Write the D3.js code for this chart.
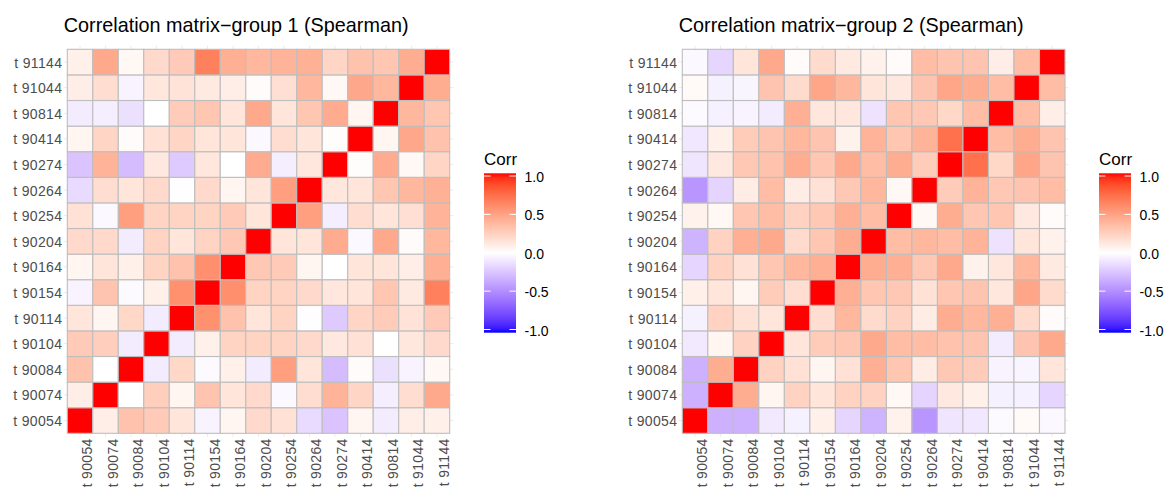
<!DOCTYPE html>
<html>
<head>
<meta charset="utf-8">
<script src="https://cdn.jsdelivr.net/npm/d3@7"></script>
<style>
  body { margin: 0; background: #fff; }
  svg { display: block; font-family: "Liberation Sans", Arial, sans-serif; }
</style>
</head>
<body>
<svg id="chart" width="1167" height="488"></svg>
<script>
// ---- data ----
const variables = ["t 90054","t 90074","t 90084","t 90104","t 90114","t 90154","t 90164",
                   "t 90204","t 90254","t 90264","t 90274","t 90414","t 90814","t 91044","t 91144"];

// lower triangle rows (row i holds correlations with variables 0..i-1)
const group1Lower = [
  [],
  [0.09],
  [0.32, 0.00],
  [0.28, 0.26, -0.08],
  [0.14, 0.05, 0.21, -0.08],
  [-0.05, 0.31, -0.02, 0.08, 0.57],
  [0.05, 0.14, 0.08, 0.23, 0.32, 0.58],
  [0.20, 0.20, -0.08, 0.23, 0.14, 0.23, 0.29],
  [0.16, -0.03, 0.50, 0.23, 0.23, 0.23, 0.28, 0.14],
  [-0.15, 0.18, 0.14, 0.20, -0.01, 0.20, 0.05, 0.14, 0.50],
  [-0.25, 0.40, -0.28, 0.12, -0.22, 0.13, 0.00, 0.44, -0.07, 0.13],
  [0.05, 0.22, 0.02, 0.16, 0.22, 0.14, 0.14, -0.03, 0.18, 0.14, 0.01],
  [-0.08, -0.07, -0.13, 0.00, 0.27, 0.30, 0.14, 0.45, 0.14, 0.30, 0.44, 0.05],
  [0.09, 0.18, -0.05, 0.13, 0.15, 0.11, 0.09, 0.02, 0.17, 0.38, 0.04, 0.46, 0.38],
  [0.08, 0.45, 0.04, 0.20, 0.28, 0.65, 0.42, 0.38, 0.40, 0.41, 0.22, 0.32, 0.30, 0.43]
];

const group2Lower = [
  [],
  [-0.33],
  [-0.33, 0.43],
  [-0.09, 0.05, 0.24],
  [-0.06, 0.24, 0.16, 0.14],
  [0.08, 0.14, 0.05, 0.27, 0.18],
  [-0.17, 0.24, 0.16, 0.30, 0.38, 0.42],
  [-0.32, 0.24, 0.42, 0.45, 0.19, 0.30, 0.43],
  [0.07, 0.04, 0.30, 0.35, 0.24, 0.29, 0.42, 0.35],
  [-0.45, -0.18, 0.10, 0.35, 0.10, 0.16, 0.29, 0.38, 0.04],
  [-0.11, 0.12, 0.29, 0.32, 0.43, 0.30, 0.45, 0.35, 0.43, 0.27],
  [-0.10, 0.08, 0.27, 0.31, 0.38, 0.31, 0.07, 0.40, 0.30, 0.40, 0.72],
  [-0.02, -0.06, -0.05, -0.08, 0.42, 0.13, 0.13, -0.12, 0.30, 0.29, 0.21, 0.35],
  [0.03, -0.06, -0.04, 0.31, 0.19, 0.47, 0.38, 0.14, 0.12, 0.31, 0.47, 0.43, 0.35],
  [-0.03, -0.17, 0.14, 0.45, 0.02, 0.19, 0.11, 0.07, 0.02, 0.35, 0.31, 0.31, 0.09, 0.35]
];

const titles = ["Correlation matrix\u2212group 1 (Spearman)", "Correlation matrix\u2212group 2 (Spearman)"];
const legendTitle = "Corr";
const legendTicks = [1.0, 0.5, 0.0, -0.5, -1.0];

// ---- helpers ----
function fullMatrix(lower) {
  const cells = [];
  variables.forEach((rv, i) => {
    variables.forEach((cv, j) => {
      let v;
      if (i === j) v = 1;
      else if (j < i) v = lower[i][j];
      else v = lower[j][i];
      cells.push({ row: rv, col: cv, value: v });
    });
  });
  return cells;
}

const color = d3.scaleLinear()
  .domain([-1, 0, 1])
  .range(["blue", "white", "red"])
  .interpolate(d3.interpolateLab);

const svg = d3.select("#chart");
svg.append("rect").attr("width", 1167).attr("height", 488).attr("fill", "#fff");

// gradient for legend
const defs = svg.append("defs");
const grad = defs.append("linearGradient").attr("id", "corrGrad")
  .attr("x1", 0).attr("x2", 0).attr("y1", 0).attr("y2", 1);
d3.range(0, 41).forEach(k => {
  const t = k / 40;
  grad.append("stop").attr("offset", t).attr("stop-color", color(1 - 2 * t));
});

function drawPanel(lower, left, right, title, legendX) {
  const top = 49.3, bottom = 433.3;
  const x = d3.scaleBand().domain(variables).range([left, right]).padding(0);
  const y = d3.scaleBand().domain(variables).range([bottom, top]).padding(0);
  const g = svg.append("g");
  const ext = 3.5;

  // grid lines (theme_minimal)
  g.append("g").selectAll("line").data(variables).join("line")
    .attr("x1", d => x(d) + x.bandwidth() / 2).attr("x2", d => x(d) + x.bandwidth() / 2)
    .attr("y1", top - ext).attr("y2", bottom + ext)
    .attr("stroke", "#EBEBEB").attr("stroke-width", 1);
  g.append("g").selectAll("line").data(variables).join("line")
    .attr("y1", d => y(d) + y.bandwidth() / 2).attr("y2", d => y(d) + y.bandwidth() / 2)
    .attr("x1", left - ext).attr("x2", right + ext)
    .attr("stroke", "#EBEBEB").attr("stroke-width", 1);

  // tiles
  g.append("g").selectAll("rect").data(fullMatrix(lower)).join("rect")
    .attr("x", d => x(d.col)).attr("y", d => y(d.row))
    .attr("width", x.bandwidth()).attr("height", y.bandwidth())
    .attr("fill", d => color(d.value))
    .attr("stroke", "#BEBEBE").attr("stroke-width", 1.1);

  // y axis labels
  g.append("g").selectAll("text").data(variables).join("text")
    .attr("x", left - 5).attr("y", d => y(d) + y.bandwidth() / 2 + 5.5)
    .attr("text-anchor", "end").attr("font-size", 14).attr("letter-spacing", 0.33)
    .attr("fill", "#4D4D4D")
    .text(d => d);

  // x axis labels (rotated)
  g.append("g").selectAll("text").data(variables).join("text")
    .attr("transform", d => `translate(${x(d) + x.bandwidth() / 2 + 12},${bottom + 5}) rotate(-90)`)
    .attr("text-anchor", "end").attr("font-size", 14).attr("letter-spacing", 0.33)
    .attr("fill", "#4D4D4D")
    .text(d => d);

  // title
  g.append("text").attr("x", left - ext).attr("y", 32.3)
    .attr("font-size", 19.8).attr("letter-spacing", 0).attr("fill", "#000").text(title);

  // legend
  const barTop = 173.3, barBottom = 332.7, barW = 32;
  const ly = d3.scaleLinear().domain([1, -1]).range([176, 329.5]);
  const lg = svg.append("g");
  lg.append("text").attr("x", legendX).attr("y", 165).attr("font-size", 17).attr("fill", "#000").text(legendTitle);
  lg.append("rect").attr("x", legendX).attr("y", barTop).attr("width", barW)
    .attr("height", barBottom - barTop).attr("fill", "url(#corrGrad)");
  legendTicks.forEach(t => {
    lg.append("line").attr("x1", legendX).attr("x2", legendX + 6.5)
      .attr("y1", ly(t)).attr("y2", ly(t)).attr("stroke", "#fff").attr("stroke-width", 1);
    lg.append("line").attr("x1", legendX + barW - 6.5).attr("x2", legendX + barW)
      .attr("y1", ly(t)).attr("y2", ly(t)).attr("stroke", "#fff").attr("stroke-width", 1);
  });
  lg.append("g").selectAll("text").data(legendTicks).join("text")
    .attr("x", legendX + barW + 8.5).attr("y", d => ly(d) + 6)
    .attr("font-size", 14).attr("fill", "#000")
    .text(d => d3.format(".1f")(d).replace("−", "-"));
}

drawPanel(group1Lower, 67.3, 449.7, titles[0], 484);
drawPanel(group2Lower, 682.3, 1065, titles[1], 1099);
</script>
</body>
</html>
